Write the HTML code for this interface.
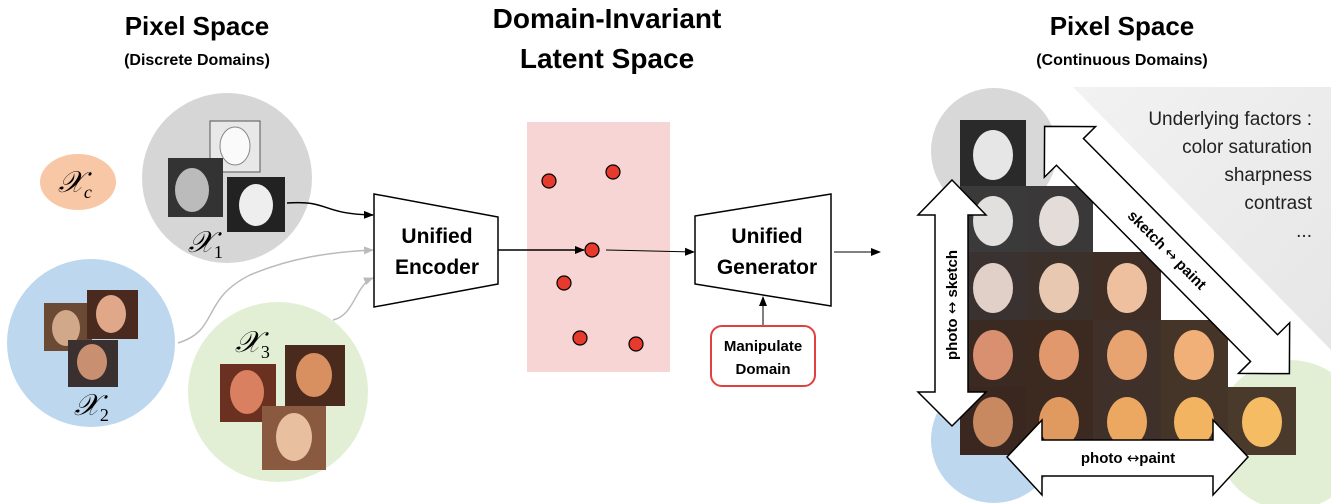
<!DOCTYPE html>
<html><head><meta charset="utf-8"><style>
html,body{margin:0;padding:0;background:#fff;}
svg{display:block;font-family:"Liberation Sans",sans-serif;}
.t{font-weight:bold;fill:#000;text-anchor:middle;}
.ar{font-family:"DejaVu Sans",sans-serif;font-weight:normal;}
</style></head><body>
<svg width="1331" height="504" viewBox="0 0 1331 504" xmlns="http://www.w3.org/2000/svg">
<defs>
<marker id="ah" markerWidth="10" markerHeight="10" refX="9" refY="5" orient="auto" markerUnits="userSpaceOnUse"><path d="M0,1 L10,5 L0,9 Z" fill="#000"/></marker>
<marker id="ag" markerWidth="10" markerHeight="10" refX="9" refY="5" orient="auto" markerUnits="userSpaceOnUse"><path d="M0,1 L10,5 L0,9 Z" fill="#bbb"/></marker>
<linearGradient id="tri" x1="0" y1="0" x2="1" y2="1"><stop offset="0" stop-color="#f2f2f2"/><stop offset="1" stop-color="#e6e6e6"/></linearGradient>
</defs>
<!-- titles -->
<text class="t" x="197" y="35" font-size="26">Pixel Space</text>
<text class="t" x="197" y="65" font-size="16">(Discrete Domains)</text>
<text class="t" x="607" y="28" font-size="28">Domain-Invariant</text>
<text class="t" x="607" y="68" font-size="28">Latent Space</text>
<text class="t" x="1122" y="35" font-size="26">Pixel Space</text>
<text class="t" x="1122" y="65" font-size="16">(Continuous Domains)</text>

<!-- left circles -->
<ellipse cx="78" cy="182" rx="38" ry="28" fill="#f8c8a6"/>
<text x="58" y="192" font-family="Liberation Serif,serif" font-style="italic" font-size="30">𝒳<tspan font-size="18" dy="6">c</tspan></text>
<circle cx="227" cy="178" r="85" fill="#d6d6d6"/>
<circle cx="91" cy="343" r="84" fill="#bdd7ee"/>
<circle cx="278" cy="392" r="90" fill="#e2efd5"/>
<!-- X1 photos -->
<rect x="210" y="121" width="50" height="51" fill="#e8e8e8" stroke="#555" stroke-width="1"/><ellipse cx="235" cy="146" rx="15" ry="19" fill="#fafafa" stroke="#888"/>
<rect x="168" y="158" width="55" height="59" fill="#333"/><ellipse cx="192" cy="190" rx="17" ry="22" fill="#bbb"/>
<rect x="227" y="177" width="58" height="55" fill="#222"/><ellipse cx="256" cy="205" rx="17" ry="21" fill="#eee"/>
<text x="188" y="252" font-family="Liberation Serif,serif" font-style="italic" font-size="30">𝒳<tspan font-size="18" font-style="normal" dy="6">1</tspan></text>
<!-- X2 photos -->
<rect x="44" y="303" width="48" height="48" fill="#6b4a35"/><ellipse cx="66" cy="328" rx="14" ry="18" fill="#d2a88a"/>
<rect x="87" y="290" width="51" height="49" fill="#4a2a1f"/><ellipse cx="111" cy="314" rx="15" ry="19" fill="#e0a888"/>
<rect x="68" y="340" width="50" height="47" fill="#3a3030"/><ellipse cx="92" cy="362" rx="15" ry="18" fill="#c89070"/>
<text x="74" y="415" font-family="Liberation Serif,serif" font-style="italic" font-size="30">𝒳<tspan font-size="18" font-style="normal" dy="6">2</tspan></text>
<!-- X3 photos -->
<text x="235" y="352" font-family="Liberation Serif,serif" font-style="italic" font-size="30">𝒳<tspan font-size="18" font-style="normal" dy="6">3</tspan></text>
<rect x="220" y="364" width="56" height="58" fill="#6a3020"/><ellipse cx="247" cy="392" rx="17" ry="22" fill="#d88060"/>
<rect x="285" y="345" width="60" height="61" fill="#4a2a1c"/><ellipse cx="314" cy="375" rx="18" ry="22" fill="#d89060"/>
<rect x="262" y="406" width="64" height="64" fill="#8a5a40"/><ellipse cx="294" cy="437" rx="18" ry="24" fill="#e8c0a0"/>
<!-- connectors -->
<path d="M287,203 C330,200 320,214 373,215" fill="none" stroke="#000" stroke-width="1.5" marker-end="url(#ah)"/>
<path d="M178,343 C220,330 200,300 250,275 C290,258 330,252 373,250" fill="none" stroke="#bbb" stroke-width="1.5" marker-end="url(#ag)"/>
<path d="M333,320 C355,315 355,285 373,278" fill="none" stroke="#bbb" stroke-width="1.5" marker-end="url(#ag)"/>

<!-- encoder -->
<polygon points="374,194 498,217 498,284 374,307" fill="#fff" stroke="#000" stroke-width="1.5"/>
<text class="t" x="437" y="243" font-size="21">Unified</text>
<text class="t" x="437" y="274" font-size="21">Encoder</text>
<!-- latent -->
<rect x="527" y="122" width="143" height="250" fill="#f8d5d5"/>
<line x1="498" y1="250" x2="584" y2="250" stroke="#000" stroke-width="1.5" marker-end="url(#ah)"/>
<line x1="606" y1="250" x2="694" y2="252" stroke="#000" stroke-width="1" marker-end="url(#ah)"/>
<g fill="#e63a2c" stroke="#000" stroke-width="1.2">
<circle cx="549" cy="181" r="7"/><circle cx="613" cy="172" r="7"/><circle cx="592" cy="250" r="7"/>
<circle cx="564" cy="283" r="7"/><circle cx="580" cy="338" r="7"/><circle cx="636" cy="344" r="7"/>
</g>
<!-- generator -->
<polygon points="695,216 831,194 831,306 695,284" fill="#fff" stroke="#000" stroke-width="1.5"/>
<text class="t" x="767" y="243" font-size="21">Unified</text>
<text class="t" x="767" y="274" font-size="21">Generator</text>
<line x1="763" y1="325" x2="763" y2="297" stroke="#000" stroke-width="1" marker-end="url(#ah)"/>
<rect x="711" y="326" width="104" height="60" rx="11" fill="#fff" stroke="#e04040" stroke-width="2"/>
<text class="t" x="763" y="351" font-size="15">Manipulate</text>
<text class="t" x="763" y="374" font-size="15">Domain</text>
<line x1="834" y1="252" x2="880" y2="252" stroke="#000" stroke-width="1" marker-end="url(#ah)"/>

<!-- right side -->
<polygon points="1073,87 1331,87 1331,350" fill="url(#tri)"/>
<g font-size="19" fill="#222" text-anchor="end">
<text x="1312" y="125">Underlying factors :</text>
<text x="1312" y="153">color saturation</text>
<text x="1312" y="181">sharpness</text>
<text x="1312" y="209">contrast</text>
<text x="1312" y="237">...</text>
</g>
<circle cx="994" cy="151" r="63" fill="#d8d8d8"/>
<circle cx="994" cy="440" r="63" fill="#bdd7ee"/>
<circle cx="1290" cy="435" r="75" fill="#e2efd5"/>
<!-- face grid -->
<g>
<rect x="960" y="120" width="66" height="67" fill="#2a2a2a"/><ellipse cx="993" cy="155" rx="20" ry="25" fill="#e6e6e6"/>
<rect x="960" y="186" width="66" height="67" fill="#3a3a3a"/><ellipse cx="993" cy="221" rx="20" ry="25" fill="#e2e0de"/>
<rect x="1026" y="186" width="67" height="67" fill="#3a3838"/><ellipse cx="1059" cy="221" rx="20" ry="25" fill="#e4dcd8"/>
<rect x="960" y="252" width="66" height="68" fill="#3a3230"/><ellipse cx="993" cy="288" rx="20" ry="25" fill="#e0d0c8"/>
<rect x="1026" y="252" width="67" height="68" fill="#3c302a"/><ellipse cx="1059" cy="288" rx="20" ry="25" fill="#e8c8b0"/>
<rect x="1093" y="252" width="68" height="68" fill="#3e2e26"/><ellipse cx="1127" cy="288" rx="20" ry="25" fill="#eec0a0"/>
<rect x="960" y="320" width="66" height="67" fill="#3a2a22"/><ellipse cx="993" cy="355" rx="20" ry="25" fill="#d89070"/>
<rect x="1026" y="320" width="67" height="67" fill="#3c2a20"/><ellipse cx="1059" cy="355" rx="20" ry="25" fill="#e0986c"/>
<rect x="1093" y="320" width="68" height="67" fill="#40302a"/><ellipse cx="1127" cy="355" rx="20" ry="25" fill="#e8a470"/>
<rect x="1161" y="320" width="67" height="67" fill="#453428"/><ellipse cx="1194" cy="355" rx="20" ry="25" fill="#f0b078"/>
<rect x="960" y="387" width="66" height="68" fill="#3a2820"/><ellipse cx="993" cy="422" rx="20" ry="25" fill="#c88860"/>
<rect x="1026" y="387" width="67" height="68" fill="#3c2a20"/><ellipse cx="1059" cy="422" rx="20" ry="25" fill="#e09a60"/>
<rect x="1093" y="387" width="68" height="68" fill="#40302a"/><ellipse cx="1127" cy="422" rx="20" ry="25" fill="#eca860"/>
<rect x="1161" y="387" width="67" height="68" fill="#453428"/><ellipse cx="1194" cy="422" rx="20" ry="25" fill="#f2b460"/>
<rect x="1228" y="387" width="68" height="68" fill="#4a3a2c"/><ellipse cx="1262" cy="422" rx="20" ry="25" fill="#f5bc64"/>
</g>
<!-- vertical double arrow -->
<polygon points="952,180 986,215 968,215 968,392 986,392 952,426 918,392 935,392 935,215 918,215" fill="#fff" stroke="#000" stroke-width="1.5"/>
<text class="t" font-size="15" transform="translate(957,305) rotate(-90)">photo <tspan class="ar">↔</tspan> sketch</text>
<!-- horizontal double arrow -->
<polygon points="1007,457 1042,420 1042,440 1213,440 1213,420 1248,457 1213,495 1213,476 1042,476 1042,495" fill="#fff" stroke="#000" stroke-width="1.5"/>
<text class="t" font-size="15" x="1128" y="463">photo <tspan class="ar">↔</tspan>paint</text>
<!-- diagonal double arrow -->
<g transform="translate(1167,250) rotate(45.3)">
<polygon points="-174,0 -138,-36 -138,-19 138,-19 138,-36 174,0 138,36 138,19 -138,19 -138,36" fill="#fff" stroke="#000" stroke-width="1.5"/>
<text class="t" font-size="15" x="0" y="5">sketch <tspan class="ar">↔</tspan> paint</text>
</g>
</svg>
</body></html>
